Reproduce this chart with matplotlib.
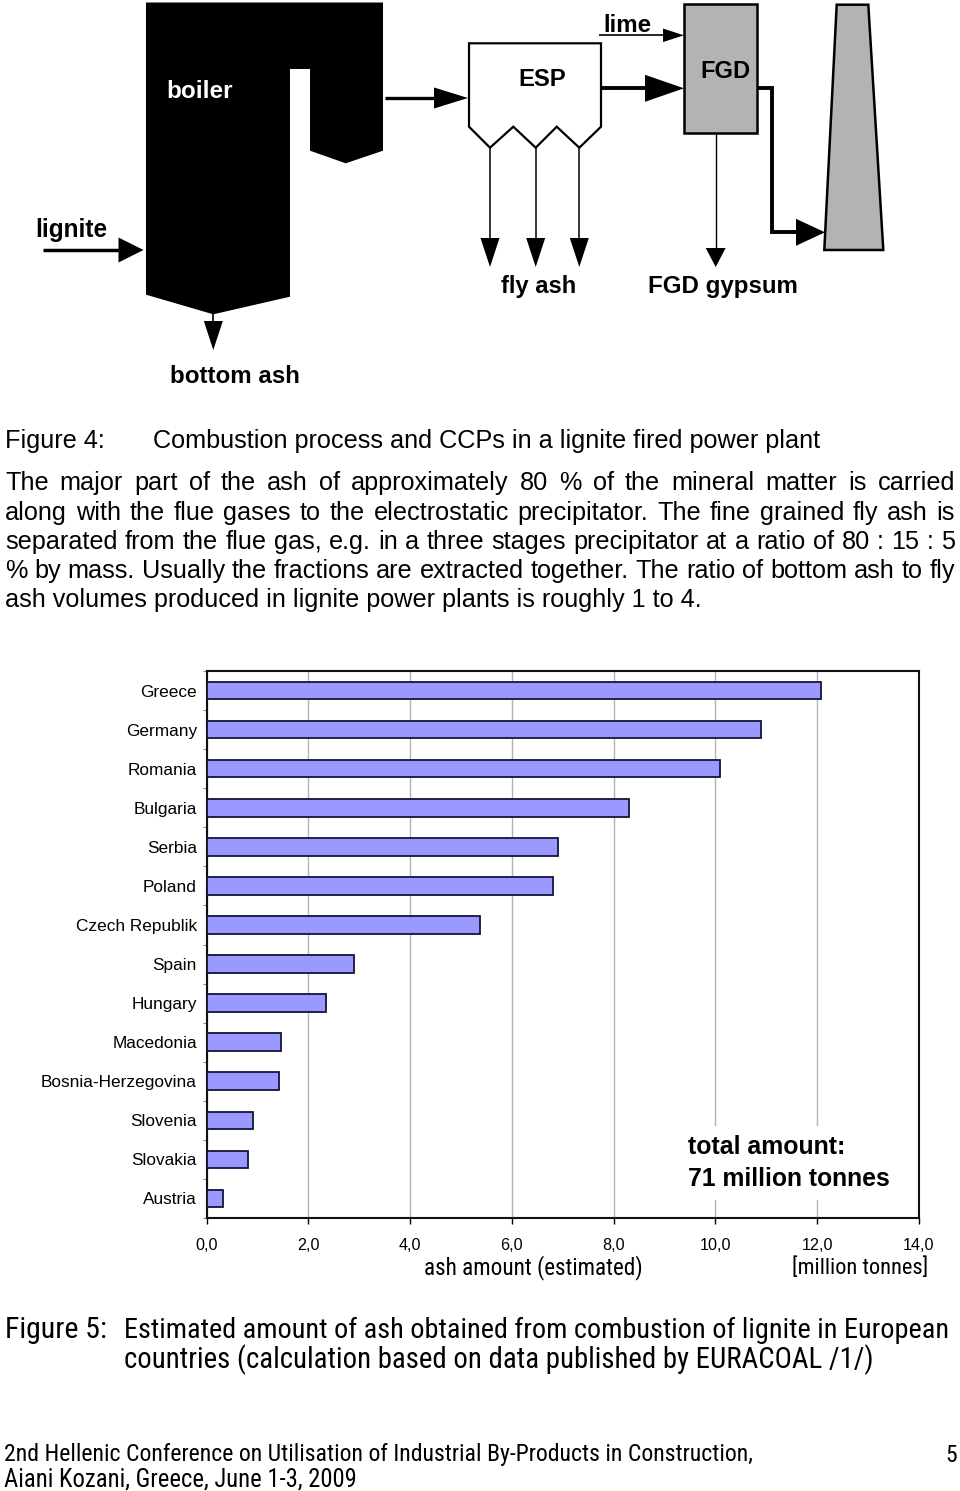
import numpy as np
import matplotlib
matplotlib.use('Agg')
import matplotlib.pyplot as plt
from matplotlib.patches import Polygon, Rectangle
from matplotlib import font_manager as fm

# ---------------- data ----------------
countries = ['Greece', 'Germany', 'Romania', 'Bulgaria', 'Serbia', 'Poland',
             'Czech Republik', 'Spain', 'Hungary', 'Macedonia',
             'Bosnia-Herzegovina', 'Slovenia', 'Slovakia', 'Austria']
ash_amount = [12.08, 10.89, 10.09, 8.30, 6.90, 6.80, 5.37, 2.90, 2.34, 1.47,
              1.43, 0.91, 0.81, 0.32]
x_ticks = [0, 2, 4, 6, 8, 10, 12, 14]
x_tick_labels = ['0,0', '2,0', '4,0', '6,0', '8,0', '10,0', '12,0', '14,0']

# ---------------- page setup ----------------
W, H = 960, 1491
fig = plt.figure(figsize=(W / 100, H / 100), dpi=100)
bg = fig.add_axes([0, 0, 1, 1])
bg.set_xlim(0, W)
bg.set_ylim(H, 0)
bg.axis('off')
renderer = fig.canvas.get_renderer()

SANS = 'Liberation Sans'


def narrow_props():
    for fam in ('Liberation Sans Narrow', 'Arial Narrow', 'Roboto Condensed'):
        try:
            fm.findfont(fm.FontProperties(family=fam), fallback_to_default=False)
            return dict(family=fam)
        except Exception:
            pass
    try:
        f = fm.findfont(fm.FontProperties(family='DejaVu Sans', stretch='condensed'),
                        fallback_to_default=False)
        if 'ondensed' in f:
            return dict(family='DejaVu Sans', stretch='condensed')
    except Exception:
        pass
    return dict(family=SANS)


NARROW = narrow_props()


def fit(x, y, s, width, weight='normal', ha='left', va='center',
        color='black', host=None, fprops=None, **kw):
    host = host or bg
    fprops = fprops or dict(family=SANS)
    t = host.text(x, y, s, fontsize=20, fontweight=weight, ha=ha,
                  va=va, color=color, transform=bg.transData, clip_on=False,
                  **fprops, **kw)
    w = t.get_window_extent(renderer).width
    t.set_fontsize(20 * width / w)
    return t


BODY = 18.2
BASE_OFF = 6.6   # centre -> baseline offset (px) for body text


def justify(y, s, x0, x1, size):
    words = s.split(' ')
    ts = [bg.text(0, y + BASE_OFF, w, fontsize=size, family=SANS, va='baseline',
                  ha='left') for w in words]
    ws = [t.get_window_extent(renderer).width for t in ts]
    gap = (x1 - x0 - sum(ws)) / (len(words) - 1)
    x = x0
    for t, w in zip(ts, ws):
        t.set_x(x)
        x += w + gap


def body(x, y, s):
    bg.text(x, y + BASE_OFF, s, fontsize=BODY, family=SANS, va='baseline', ha='left')


def poly(pts, fc, ec='black', lw=0.0):
    bg.add_patch(Polygon(pts, closed=True, fc=fc, ec=ec, lw=lw, joinstyle='miter'))


def arrow(pts, lw, hl, hw):
    (x0, y0), (x1, y1) = pts[-2], pts[-1]
    L = np.hypot(x1 - x0, y1 - y0)
    ux, uy = (x1 - x0) / L, (y1 - y0) / L
    bx, by = x1 - ux * hl, y1 - uy * hl
    line = list(pts[:-1]) + [(bx + ux * 1.0, by + uy * 1.0)]
    bg.plot([p[0] for p in line], [p[1] for p in line], color='black', lw=lw,
            solid_capstyle='butt', solid_joinstyle='miter')
    px, py = -uy, ux
    poly([(x1, y1), (bx + px * hw / 2, by + py * hw / 2),
          (bx - px * hw / 2, by - py * hw / 2)], 'black')


# ---------------- diagram (Figure 4) ----------------
poly([(146, 2.5), (383, 2.5), (383, 150.7), (345.7, 163.3), (310, 150.7),
      (310, 69), (290, 69), (290, 296.7), (213.3, 314.3), (146, 294.7)], 'black')
poly([(469, 43.3), (601, 43.3), (601, 126.7), (579.3, 147.7), (556.7, 126.7),
      (535.7, 147.7), (513.3, 126.7), (490, 147.7), (469, 126.7)], 'white', lw=1.6)
bg.add_patch(Rectangle((684.3, 4), 72.4, 129.3, fc='#b3b3b3', ec='black', lw=1.8))
poly([(836.7, 4.7), (868.3, 4.7), (883.3, 250), (824.3, 250)], '#b3b3b3', lw=1.8)

arrow([(43, 250), (143.5, 250)], 2.5, 25, 25)            # lignite
arrow([(213.3, 312), (213.3, 350)], 1.2, 29, 19)        # bottom ash
arrow([(385, 98), (468, 98)], 2.4, 34, 21)              # boiler -> ESP
for xa in (490, 535.7, 579.3):                            # fly ash
    arrow([(xa, 147.7), (xa, 267)], 1.1, 29, 19)
arrow([(601, 88.3), (684, 88.3)], 2.8, 39, 27)          # ESP -> FGD
arrow([(599, 35.3), (684, 35.3)], 1.2, 21, 13.5)        # lime
arrow([(715.7, 133.3), (715.7, 267)], 1.0, 19, 20)      # gypsum
arrow([(756.7, 88), (772.3, 88), (772.3, 232.3), (825, 232.3)], 2.8, 29, 27)

BOLD = dict(weight='bold', ha='center')
fit(200, 92, 'boiler', 66, color='white', **BOLD)
fit(542.7, 80, 'ESP', 48, **BOLD)
fit(725, 72, 'FGD', 50, **BOLD)
fit(627, 26, 'lime', 48, **BOLD)
fit(71.5, 230, 'lignite', 72, **BOLD)
fit(539, 287, 'fly ash', 75, **BOLD)
fit(723, 287, 'FGD gypsum', 150, **BOLD)
fit(235, 376.5, 'bottom ash', 130, **BOLD)

# ---------------- body text ----------------
body(5, 441, 'Figure 4:')
body(153, 441, 'Combustion process and CCPs in a lignite fired power plant')
justify(483, 'The major part of the ash of approximately 80 % of the mineral matter is carried', 5, 955, BODY)
justify(513, 'along with the flue gases to the electrostatic precipitator. The fine grained fly ash is', 5, 955, BODY)
justify(542.5, 'separated from the flue gas, e.g. in a three stages precipitator at a ratio of 80 : 15 : 5', 5, 955, BODY)
justify(571.5, '% by mass. Usually the fractions are extracted together. The ratio of bottom ash to fly', 5, 955, BODY)
body(5, 600.5, 'ash volumes produced in lignite power plants is roughly 1 to 4.')

# ---------------- bar chart (Figure 5) ----------------
L, R, T, B = 206.5, 919, 671, 1218
ax = fig.add_axes([L / W, 1 - B / H, (R - L) / W, (B - T) / H])
ypos = list(range(len(countries)))
ax.barh(ypos, ash_amount, height=0.45, color='#9999ff', edgecolor='#14143a',
        linewidth=1.3, zorder=3)
ax.set_xlim(0, 14)
ax.set_ylim(len(countries) - 0.5, -0.5)
ax.set_xticks(x_ticks)
ax.set_xticklabels(x_tick_labels, fontsize=11.6, family=SANS)
ax.set_yticks(ypos)
ax.set_yticklabels(countries, fontsize=12.4, family=SANS)
ax.set_yticks([i - 0.5 for i in range(len(countries) + 1)], minor=True)
ax.tick_params(axis='y', which='major', length=0, pad=7)
ax.tick_params(axis='y', which='minor', length=3, color='#888888', width=0.8)
ax.tick_params(axis='x', length=4, pad=10.5, width=1)
ax.grid(axis='x', color='#b3b3b3', lw=1)
ax.set_axisbelow(True)
for sp in ax.spines.values():
    sp.set_linewidth(1.5)
    sp.set_color('#111111')

ax.add_patch(Rectangle((681, 1126), 218, 74, transform=bg.transData, fc='white',
                       ec='none', zorder=2, clip_on=False))
fit(688, 1146.5, 'total amount:', 157, weight='bold', host=ax, zorder=5)
fit(688, 1179.5, '71 million tonnes', 202, weight='bold', host=ax, zorder=5)

fit(533, 1268, 'ash amount (estimated)', 218, ha='center', fprops=NARROW)
fit(860.5, 1268, '[million tonnes]', 135.5, ha='center', fprops=NARROW)

# ---------------- caption & footer ----------------
fit(5, 1330, 'Figure 5:', 102, fprops=NARROW)
fit(124, 1330, 'Estimated amount of ash obtained from combustion of lignite in European', 822, fprops=NARROW)
fit(124, 1360, 'countries (calculation based on data published by EURACOAL /1/)', 745, fprops=NARROW)
foot = fit(4, 1455, '2nd Hellenic Conference on Utilisation of Industrial By-Products in Construction,', 748, fprops=NARROW)
fit(4, 1479, 'Aiani Kozani, Greece, June 1-3, 2009', 351, fprops=NARROW)
bg.text(957, 1455, '5', fontsize=foot.get_fontsize(), ha='right', va='center', **NARROW)

fig.savefig('out.png', dpi=100)
